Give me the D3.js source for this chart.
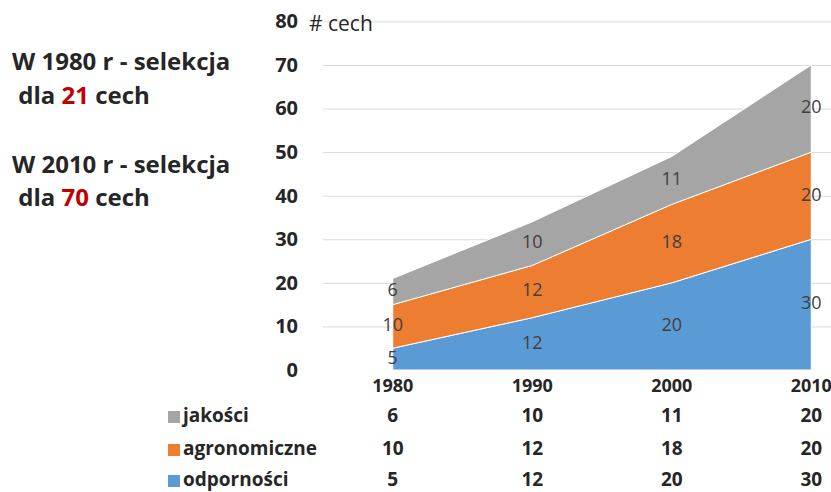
<!DOCTYPE html>
<html>
<head>
<meta charset="utf-8">
<script src="https://cdn.jsdelivr.net/npm/d3@7"></script>
<style>
  html, body { margin: 0; padding: 0; background: #fff; }
  svg { display: block; font-family: "Open Sans", Lato, sans-serif; }
</style>
</head>
<body>
<div id="chart"></div>
<script>
// data
const years = ["1980", "1990", "2000", "2010"];
const odpornosci = [5, 12, 20, 30];
const agronomiczne = [10, 12, 18, 20];
const jakosci = [6, 10, 11, 20];
const yTicks = [0, 10, 20, 30, 40, 50, 60, 70, 80];

const series = [
    { key: "odpornosci", name: "odporności", values: odpornosci, color: "#5B9BD5" },
    { key: "agronomiczne", name: "agronomiczne", values: agronomiczne, color: "#ED7D31" },
    { key: "jakosci", name: "jakości", values: jakosci, color: "#A5A5A5" }
];

const width = 831, height = 492;
const textColor = "#262626";

const svg = d3.select("#chart")
    .append("svg")
    .attr("width", width)
    .attr("height", height);

/** scales */
let x = d3.scaleBand()
    .domain(years)
    .range([323, 881])
    .padding(0);
const cx = d => x(d) + x.bandwidth() / 2;

let y = d3.scaleLinear()
    .domain([0, 80])
    .range([370, 21.4]);

/** grid + y axis */
let axisY = d3.axisLeft(y)
    .tickValues(yTicks)
    .tickSize(-(x.range()[1] - x.range()[0]))
    .tickPadding(25);

let gy = svg.append("g")
    .attr("class", "axis_y")
    .attr("transform", `translate(${x.range()[0]},0)`)
    .call(axisY);
gy.select(".domain").remove();
gy.selectAll(".tick line")
    .attr("stroke", d => d === 0 ? "none" : "#D9D9D9")
    .attr("stroke-width", 1);
gy.selectAll(".tick text")
    .attr("fill", textColor)
    .attr("font-size", 20)
    .attr("font-weight", "bold")
    .attr("font-family", "'Open Sans', sans-serif");

svg.append("text")
    .attr("x", 309)
    .attr("y", 25)
    .attr("dominant-baseline", "middle")
    .attr("font-size", 21)
    .attr("fill", textColor)
    .text("# cech");

/** stacked areas */
let rows = years.map((yr, i) => {
    let row = { year: yr };
    series.forEach(s => row[s.key] = s.values[i]);
    return row;
});
let stackData = d3.stack().keys(series.map(s => s.key))(rows);

let area = d3.area()
    .x(d => cx(d.data.year))
    .y0(d => y(d[0]))
    .y1(d => y(d[1]));

svg.append("g")
    .selectAll("path")
    .data(stackData)
    .join("path")
    .attr("d", area)
    .attr("fill", (d, i) => series[i].color)
    .attr("stroke", "#fff")
    .attr("stroke-width", 1)
    .attr("stroke-linejoin", "round");

// data labels at the middle of every band
stackData.forEach((layer, i) => {
    svg.append("g")
        .selectAll("text")
        .data(layer)
        .join("text")
        .attr("x", d => cx(d.data.year))
        .attr("y", d => y((d[0] + d[1]) / 2))
        .attr("text-anchor", "middle")
        .attr("dominant-baseline", "middle")
        .attr("font-size", 18)
        .attr("fill", "#404040")
        .text(d => d[1] - d[0]);
});

/** x axis labels */
svg.append("g")
    .selectAll("text")
    .data(years)
    .join("text")
    .attr("x", d => cx(d))
    .attr("y", 387)
    .attr("text-anchor", "middle")
    .attr("dominant-baseline", "middle")
    .attr("font-size", 18)
    .attr("font-weight", "bold")
    .attr("fill", textColor)
    .text(d => d);

/** data table with legend keys */
const tableRows = [series[2], series[1], series[0]];
const rowY = [417, 450, 481];

let table = svg.append("g").attr("class", "table");
tableRows.forEach((s, r) => {
    let g = table.append("g");
    g.append("rect")
        .attr("x", 168)
        .attr("y", rowY[r] - 6)
        .attr("width", 12)
        .attr("height", 12)
        .attr("fill", s.color);
    g.append("text")
        .attr("x", 183)
        .attr("y", rowY[r])
        .attr("dominant-baseline", "middle")
        .attr("font-size", 19)
        .attr("font-weight", "bold")
        .attr("fill", textColor)
        .text(s.name);
    g.selectAll(".val")
        .data(s.values)
        .join("text")
        .attr("class", "val")
        .attr("x", (d, i) => cx(years[i]))
        .attr("y", rowY[r])
        .attr("text-anchor", "middle")
        .attr("dominant-baseline", "middle")
        .attr("font-size", 19)
        .attr("font-weight", "bold")
        .attr("fill", textColor)
        .text(d => d);
});

/** side notes */
const notes = [
    { y: 64, parts: [["W 1980 r - selekcja", textColor]] },
    { y: 98, parts: [[" dla ", textColor], ["21", "#C00000"], [" cech", textColor]] },
    { y: 167, parts: [["W 2010 r - selekcja", textColor]] },
    { y: 200, parts: [[" dla ", textColor], ["70", "#C00000"], [" cech", textColor]] }
];
notes.forEach(n => {
    let t = svg.append("text")
        .attr("x", 12)
        .attr("y", n.y)
        .attr("dominant-baseline", "middle")
        .attr("font-size", 24)
        .attr("font-weight", "bold")
        .attr("xml:space", "preserve")
        .style("white-space", "pre");
    n.parts.forEach(p => t.append("tspan").attr("fill", p[1]).text(p[0]));
});
</script>
</body>
</html>
